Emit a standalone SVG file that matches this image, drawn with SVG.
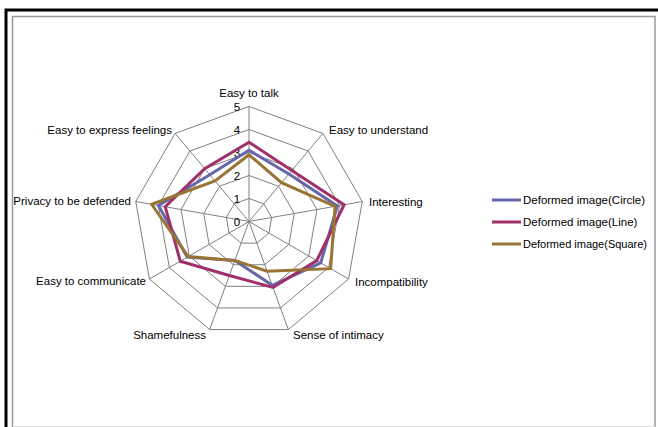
<svg xmlns="http://www.w3.org/2000/svg" width="658" height="427" viewBox="0 0 658 427">
<style>
text{font-family:"Liberation Sans",Arial,sans-serif;font-size:11.5px;fill:#000}
.grid{fill:none;stroke:#808080;stroke-width:1}
.ser{fill:none;stroke-width:3;stroke-linejoin:miter}
.c{stroke:#6666AA}
.l{stroke:#A0306A}
.s{stroke:#9A7434}
.mid{text-anchor:middle}
.end{text-anchor:end}
</style>
<rect x="0" y="0" width="658" height="427" fill="#fff"/>
<g id="frame">
<rect x="6" y="10" width="660" height="430" fill="none" stroke="#000" stroke-width="3"/>
<rect x="12.5" y="16.5" width="642.5" height="420" fill="none" stroke="#999" stroke-width="1.5"/>
<line x1="14" y1="426.5" x2="655" y2="426.5" stroke="#ddd" stroke-width="1"/>
</g>
<g id="grid">
<polygon class="grid" points="249,198.5 263.78,203.88 271.65,217.51 268.92,233 256.87,243.11 241.13,243.11 229.08,233 226.35,217.51 234.22,203.88"/>
<polygon class="grid" points="249,175.5 278.57,186.26 294.30,213.51 288.84,244.5 264.73,264.73 233.27,264.73 209.16,244.5 203.70,213.51 219.43,186.26"/>
<polygon class="grid" points="249,152.5 293.35,168.65 316.95,209.52 308.75,256 272.60,286.34 225.40,286.34 189.25,256 181.05,209.52 204.65,168.65"/>
<polygon class="grid" points="249,129.5 308.14,151.03 339.60,205.53 328.67,267.5 280.46,307.95 217.54,307.95 169.33,267.5 158.40,205.53 189.86,151.03"/>
<polygon class="grid" points="249,106.5 322.92,133.41 362.25,201.54 348.59,279 288.33,329.57 209.67,329.57 149.41,279 135.75,201.54 175.08,133.41"/>
<path class="grid" d="M249,221.5L249,106.5M249,221.5L322.92,133.41M249,221.5L362.25,201.54M249,221.5L348.59,279M249,221.5L288.33,329.57M249,221.5L209.67,329.57M249,221.5L149.41,279M249,221.5L135.75,201.54M249,221.5L175.08,133.41"/>
</g>
<g id="scale">
<text class="mid" x="237" y="225.5">0</text>
<text class="mid" x="237" y="202.5">1</text>
<text class="mid" x="237" y="179.5">2</text>
<text class="mid" x="237" y="156.5">3</text>
<text class="mid" x="237" y="133.5">4</text>
<text class="mid" x="237" y="110.5">5</text>
</g>
<g id="axis-labels">
<text class="mid" x="249" y="97">Easy to talk</text>
<text x="329" y="134">Easy to understand</text>
<text x="369" y="206">Interesting</text>
<text x="355" y="286">Incompatibility</text>
<text x="293" y="339">Sense of intimacy</text>
<text class="end" x="206" y="339">Shamefulness</text>
<text class="end" x="146" y="285">Easy to communicate</text>
<text class="end" x="131" y="205">Privacy to be defended</text>
<text class="end" x="172" y="134">Easy to express feelings</text>
</g>
<g id="series">
<polygon id="circle" class="ser c" points="249,150.2 288.92,173.93 337.34,205.93 320.71,262.9 272.20,285.26 234.84,260.40 187.25,257.15 158.40,205.53 209.82,174.81"/>
<polygon id="line" class="ser l" points="249,142.15 291.87,170.41 344.13,204.73 316.72,260.6 272.99,287.42 229.33,275.53 180.28,261.18 165.19,206.73 204.65,168.65"/>
<polygon id="square" class="ser s" points="249,154.8 281.53,182.74 335.07,206.33 330.66,268.65 267.09,271.21 234.84,260.40 188.25,256.58 151.60,204.33 215.00,180.98"/>
</g>
<g id="legend">
<line class="ser c" x1="492" y1="200" x2="521" y2="200" stroke-width="2.5"/>
<text x="523" y="204">Deformed image(Circle)</text>
<line class="ser l" x1="492" y1="222" x2="521" y2="222" stroke-width="2.5"/>
<text x="523" y="226">Deformed image(Line)</text>
<line class="ser s" x1="492" y1="244" x2="521" y2="244" stroke-width="2.5"/>
<text x="523" y="248" textLength="124" lengthAdjust="spacingAndGlyphs">Deformed image(Square)</text>
</g>
</svg>
